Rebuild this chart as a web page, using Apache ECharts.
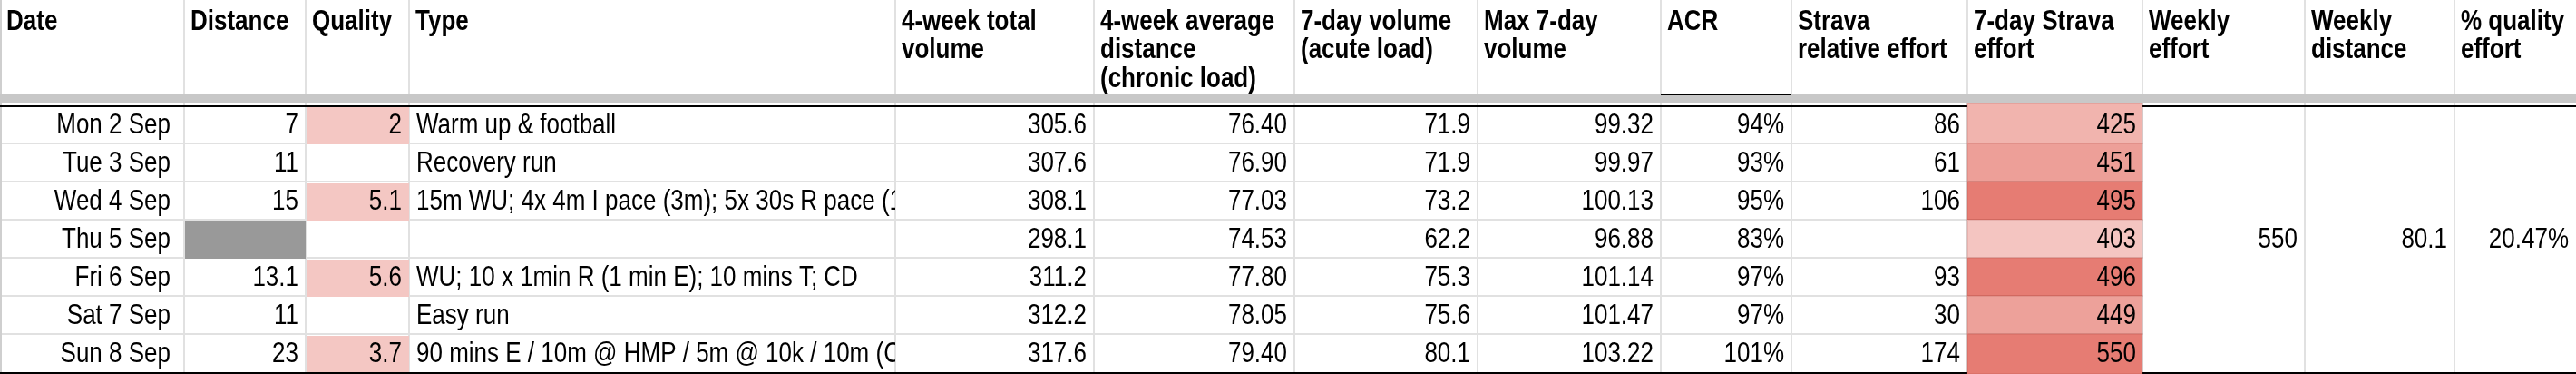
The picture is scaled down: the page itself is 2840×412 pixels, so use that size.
<!DOCTYPE html>
<html><head><meta charset="utf-8">
<script src="https://cdn.jsdelivr.net/npm/echarts@6/dist/echarts.min.js"></script>
<style>html,body{margin:0;padding:0;background:#fff}#c{width:2840px;height:412px}</style>
</head><body><div id="c"></div>
<script>
// ---------- data ----------
const headers = ['Date', 'Distance', 'Quality', 'Type', '4-week total\nvolume', '4-week average\ndistance\n(chronic load)', '7-day volume\n(acute load)', 'Max 7-day\nvolume', 'ACR', 'Strava\nrelative effort', '7-day Strava\neffort', 'Weekly\neffort', 'Weekly\ndistance', '% quality\neffort'];
const dates = ['Mon 2 Sep', 'Tue 3 Sep', 'Wed 4 Sep', 'Thu 5 Sep', 'Fri 6 Sep', 'Sat 7 Sep', 'Sun 8 Sep'];
const distance = [7, 11, 15, null, 13.1, 11, 23];
const quality = [2, null, 5.1, null, 5.6, null, 3.7];
const types = ['Warm up & football', 'Recovery run', '15m WU; 4x 4m I pace (3m); 5x 30s R pace (1m); CD', '', 'WU; 10 x 1min R (1 min E); 10 mins T; CD', 'Easy run', '90 mins E / 10m @ HMP / 5m @ 10k / 10m (CD)'];
const total4w = [305.6, 307.6, 308.1, 298.1, 311.2, 312.2, 317.6];
const avg4w = [76.40, 76.90, 77.03, 74.53, 77.80, 78.05, 79.40];
const vol7 = [71.9, 71.9, 73.2, 62.2, 75.3, 75.6, 80.1];
const max7 = [99.32, 99.97, 100.13, 96.88, 101.14, 101.47, 103.22];
const acr = [94, 93, 95, 83, 97, 97, 101];
const relEffort = [86, 61, 106, null, 93, 30, 174];
const strava7 = [425, 451, 495, 403, 496, 449, 550];
const weeklyEffort = 550;
const weeklyDistance = 80.1;
const qualityEffortPct = 20.47;

// ---------- layout / style ----------
const W = 2840, H = 412;
const colEdges = [0, 203, 337, 451, 987, 1206, 1427, 1629, 1831, 1975, 2169, 2362, 2541, 2706, 2840];
const bandTop = 104, bandBottom = 114, bodyTop = 116, rowH = 42;
const nRows = dates.length;
const bodyBottom = bodyTop + nRows * rowH;
const FONT = '"Liberation Sans", Arial, Helvetica, sans-serif';
const GRID = '#e1e1e1';
const SY = 1.22; // glyphs in the reference are taller than wide
const fmt = v => (v == null ? '' : String(v));

const colSpec = [
  { get: r => dates[r], align: 'right', pad: 15 },
  { get: r => fmt(distance[r]), fill: r => (distance[r] == null ? '#999999' : null) },
  { get: r => fmt(quality[r]), fill: r => (quality[r] != null ? '#f4c7c3' : null) },
  { get: r => types[r], align: 'left', clip: true },
  { get: r => total4w[r].toFixed(1) },
  { get: r => avg4w[r].toFixed(2) },
  { get: r => vol7[r].toFixed(1) },
  { get: r => max7[r].toFixed(2) },
  { get: r => acr[r] + '%' },
  { get: r => fmt(relEffort[r]) }
];

const bodyData = [], bodyInfo = [];
for (let r = 0; r < nRows; r++) {
  colSpec.forEach((s, c) => {
    bodyData.push([c, r, 1]);
    bodyInfo.push({ text: s.get(r), align: s.align || 'right', pad: s.pad || 8, fill: s.fill ? s.fill(r) : null, clip: !!s.clip });
  });
}
[[11, fmt(weeklyEffort)], [12, fmt(weeklyDistance)], [13, qualityEffortPct.toFixed(2) + '%']].forEach(([c, t]) => {
  bodyData.push([c, 0, nRows]);
  bodyInfo.push({ text: t, align: 'right', pad: 8, fill: null, clip: false });
});

const stravaData = strava7.map((v, r) => [10, r, v]);

function cellText(text, x, y, align) {
  return { type: 'text', x: x, y: y, scaleY: SY, style: { text: text, x: 0, y: 0, align: align, verticalAlign: 'middle', font: '26px ' + FONT, fill: '#000' } };
}

function renderBody(params, api) {
  const c = api.value(0), r = api.value(1), span = api.value(2);
  const info = bodyInfo[params.dataIndex];
  const p0 = api.coord([colEdges[c], bodyTop + r * rowH]);
  const p1 = api.coord([colEdges[c + 1], bodyTop + (r + span) * rowH]);
  const children = [];
  if (info.fill) {
    children.push({ type: 'rect', shape: { x: p0[0] + 1, y: p0[1] + 2, width: p1[0] - p0[0] - 1, height: p1[1] - p0[1] - 1 }, style: { fill: info.fill } });
  }
  const cy = (p0[1] + p1[1]) / 2 + 1;
  const tx = info.align === 'right' ? p1[0] - info.pad : p0[0] + info.pad;
  const text = cellText(info.text, tx, cy, info.align);
  if (info.clip) {
    children.push({ type: 'group', clipPath: { type: 'rect', shape: { x: p0[0], y: p0[1], width: p1[0] - p0[0], height: p1[1] - p0[1] } }, children: [text] });
  } else children.push(text);
  return { type: 'group', children };
}

function renderStrava(params, api) {
  const c = api.value(0), r = api.value(1), v = api.value(2);
  const top = r === 0 ? bandBottom : bodyTop + r * rowH;
  const bot = r === nRows - 1 ? H : bodyTop + (r + 1) * rowH;
  const p0 = api.coord([colEdges[c], top]);
  const p1 = api.coord([colEdges[c + 1], bot]);
  const cy = (api.coord([0, bodyTop + r * rowH])[1] + api.coord([0, bodyTop + (r + 1) * rowH])[1]) / 2 + 1;
  return { type: 'group', children: [
    { type: 'rect', shape: { x: p0[0], y: p0[1], width: p1[0] - p0[0], height: p1[1] - p0[1] }, style: { fill: api.visual('color'), stroke: 'rgba(150,50,40,0.13)', lineWidth: 2 } },
    cellText(String(v), p1[0] - 7, cy, 'right')
  ] };
}

function renderHeader(params, api) {
  const c = api.value(0);
  const p = api.coord([colEdges[c] + 7, 8]);
  return { type: 'text', x: p[0], y: p[1], scaleY: SY, style: { text: headers[c], x: 0, y: 0, align: 'left', verticalAlign: 'top', font: 'bold 26px ' + FONT, lineHeight: 26, fill: '#000' } };
}

function renderGrid(params, api) {
  const ch = [];
  const line = (x1, y1, x2, y2, color, w) => {
    const a = api.coord([x1, y1]), b = api.coord([x2, y2]);
    ch.push({ type: 'line', shape: { x1: a[0], y1: a[1], x2: b[0], y2: b[1] }, style: { stroke: color, lineWidth: w } });
  };
  for (let i = 1; i < colEdges.length - 1; i++) line(colEdges[i], 0, colEdges[i], bodyBottom, GRID, 2);
  for (let r = 1; r < nRows; r++) line(0, bodyTop + r * rowH, colEdges[11], bodyTop + r * rowH, GRID, 2);
  line(1, 0, 1, bodyBottom, '#cfcfcf', 2);
  return { type: 'group', children: ch };
}

function renderFrame(params, api) {
  const ch = [];
  const rect = (x1, y1, x2, y2, color) => {
    const a = api.coord([x1, y1]), b = api.coord([x2, y2]);
    ch.push({ type: 'rect', shape: { x: a[0], y: a[1], width: b[0] - a[0], height: b[1] - a[1] }, style: { fill: color } });
  };
  rect(0, bandTop, W, bandBottom, '#c8c8c8');
  rect(0, bodyTop, W, bodyTop + 2, '#000');
  rect(0, bodyBottom, W, H, '#000');
  rect(colEdges[8], bandTop - 1, colEdges[9], bandTop + 1, '#000');
  return { type: 'group', children: ch };
}

const chart = echarts.init(document.getElementById('c'), null, { renderer: 'canvas' });
chart.setOption({
  animation: false,
  backgroundColor: '#ffffff',
  grid: { left: 0, right: 0, top: 0, bottom: 0 },
  xAxis: { type: 'value', min: 0, max: W, show: false },
  yAxis: { type: 'value', min: 0, max: H, inverse: true, show: false },
  visualMap: { show: false, type: 'continuous', seriesIndex: 3, dimension: 2, min: 330, max: 495, inRange: { color: ['#ffffff', '#e67c73'] } },
  series: [
    { type: 'custom', z: 1, data: [[0]], renderItem: renderGrid, silent: true },
    { type: 'custom', z: 2, data: bodyData, renderItem: renderBody, silent: true },
    { type: 'custom', z: 3, data: [[0]], renderItem: renderFrame, silent: true },
    { type: 'custom', z: 4, data: stravaData, renderItem: renderStrava, silent: true },
    { type: 'custom', z: 5, data: headers.map((h, i) => [i]), renderItem: renderHeader, silent: true }
  ]
});
</script></body></html>
